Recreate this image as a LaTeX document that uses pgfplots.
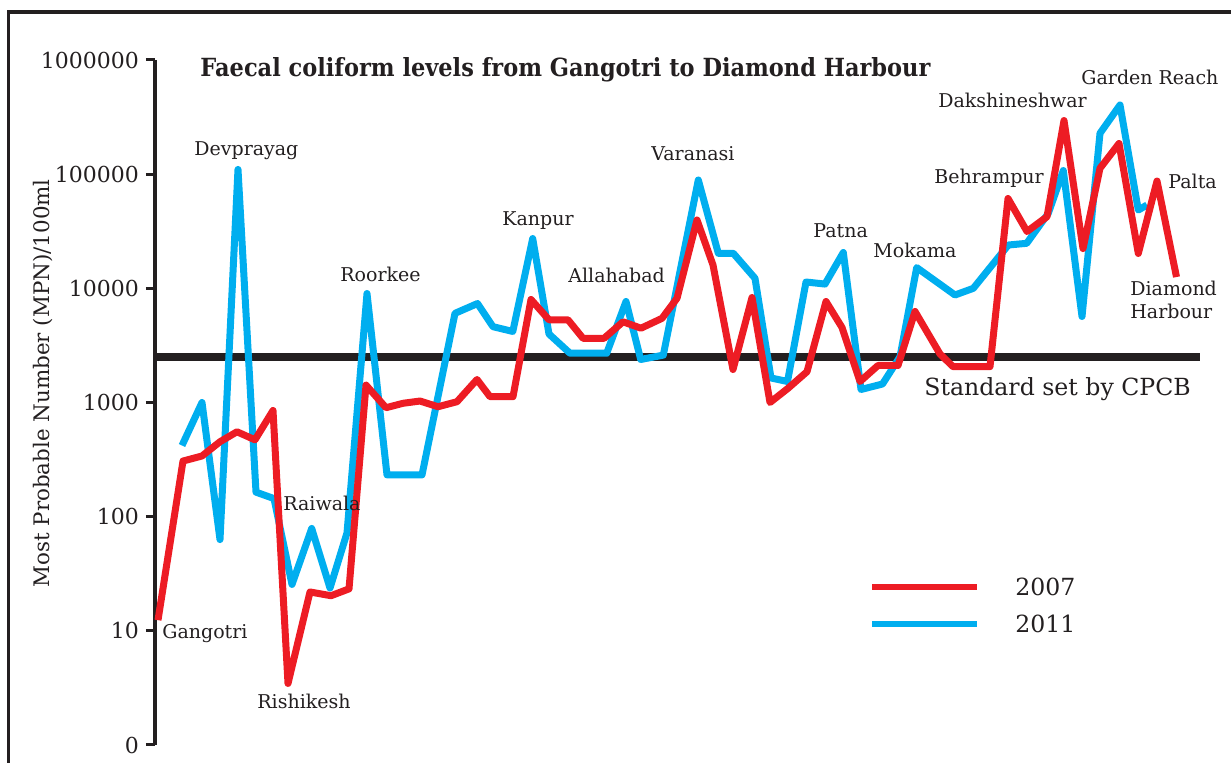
\documentclass[border=0pt]{standalone}
\usepackage{pgfplots}
\pgfplotsset{compat=1.18}
\usepackage{fontspec}
\setmainfont{DejaVu Serif}
\usepackage{graphicx}
\definecolor{cred}{HTML}{ED1C24}
\definecolor{cblue}{HTML}{00AEEF}
\definecolor{cblack}{HTML}{231F20}
\newcommand{\lab}{\fontsize{9.5}{11}\selectfont}
\newcommand{\bigfont}{\fontsize{11.8}{14}\selectfont}
\begin{document}
\color{cblack}
\begin{tikzpicture}[x=0.5pt,y=-0.5pt]
\useasboundingbox (0,0) rectangle (1231,763);
\draw[cblack, line width=1.6pt] (8.5,790) -- (8.5,12) -- (1250,12);
\begin{axis}[
  at={(77.5pt,-372.5pt)}, anchor=south west,
  scale only axis, width=538pt, height=342.5pt,
  xmin=155, xmax=1231, ymin=1, ymax=1000000, ymode=log,
  axis x line=none, axis y line=left,
  axis line style={-, cblack, line width=2pt},
  ytick={1,10,100,1000,10000,100000,1000000},
  yticklabels={0,10,100,1000,10000,100000,1000000},
  yminorticks=false,
  tick align=outside, major tick length=4.5pt,
  tick style={cblack, line width=1.5pt},
  yticklabel style={font=\fontsize{11}{13}\selectfont, text=cblack},
  ylabel={Most Probable Number (MPN)/100ml},
  ylabel style={at={(axis description cs:-0.104,0.528)}, anchor=center, font=\fontsize{10.7}{13}\selectfont},
  clip=false,
  reverse legend,
  legend style={at={(axis description cs:0.6636,0.243)}, anchor=north west, draw=none, fill=none,
    inner sep=0pt, font=\bigfont, nodes={inner sep=0pt, text height=8.5pt, text depth=0pt},
    row sep=9.7pt, column sep=17.5pt},
  legend image code/.code={\draw[#1, line width=3pt] (0pt,0pt) -- (52.5pt,0pt);},
  legend cell align=left,
]
\addplot[cblack, line width=4pt, forget plot] coordinates {(155,2500) (1200,2500)};
\addplot[cblue, line width=3.5pt, line join=round] coordinates {
(182,420) (202,1000) (220,63) (238,110000) (256,164) (274,144) (292,25.5) (311.7,78.8)
(330,23.7) (347,72) (367,9010) (387,232) (422,232) (455,6040) (477.5,7360) (493,4613)
(512.8,4190) (532.7,27300) (549,3980) (570,2700) (606.7,2700) (626,7670) (640.7,2380)
(663.3,2600) (698.3,88900) (718.3,20260) (733.3,20260) (755,12240) (771,1640) (787.5,1527)
(806,11360) (825,10900) (843.3,20600) (861,1300) (882.5,1452) (900,2518) (916.7,15200)
(955,8740) (973.3,10000) (1008.3,23950) (1026.7,24790) (1048.3,45400) (1063.3,107600)
(1082,5665) (1100,228000) (1120,403500) (1138.3,48500) (1147,53700)
};
\addlegendentry{2011}
\addplot[cred, line width=3.5pt, line join=round] coordinates {
(158,12.4) (183,307) (202,340) (220,453) (237,554) (255,471) (273,851) (288,3.46)
(310,21.9) (331,20.3) (349,23.3) (366,1420) (386,900) (403,984) (420,1030) (438,918)
(457,1016) (477,1590) (490,1124) (513,1124) (531,7980) (549,5300) (568,5300) (583,3650)
(604,3650) (623,5090) (641,4475) (662,5460) (677,8180) (697,39700) (713,16000) (733,1945)
(752,8310) (770,1000) (788,1331) (807,1861) (826,7670) (842,4540) (860,1527) (878,2109)
(898,2109) (915,6270) (940,2660) (953,2060) (990,2060) (1008,61200) (1027,31460)
(1047,42400) (1064,295000) (1083,22300) (1100,112600) (1119,185500) (1138.3,20200)
(1157,87100) (1176.5,12560)
};
\addlegendentry{2007}
\end{axis}
\node[anchor=base west, inner sep=0pt] at (200,77) {\resizebox{365pt}{\height}{\fontsize{12.5}{14}\selectfont\bfseries Faecal coliform levels from Gangotri to Diamond Harbour}};
\node[anchor=base west, inner sep=0pt, font=\lab] at (194,156) {Devprayag};
\node[anchor=base west, inner sep=0pt, font=\lab] at (340,282) {Roorkee};
\node[anchor=base west, inner sep=0pt, font=\lab] at (283,511) {Raiwala};
\node[anchor=base west, inner sep=0pt, font=\lab] at (162,639) {Gangotri};
\node[anchor=base west, inner sep=0pt, font=\lab] at (257,709) {Rishikesh};
\node[anchor=base west, inner sep=0pt, font=\lab] at (502,226) {Kanpur};
\node[anchor=base west, inner sep=0pt, font=\lab] at (568,283) {Allahabad};
\node[anchor=base west, inner sep=0pt, font=\lab] at (651,161) {Varanasi};
\node[anchor=base west, inner sep=0pt, font=\lab] at (813,238) {Patna};
\node[anchor=base west, inner sep=0pt, font=\lab] at (873,258) {Mokama};
\node[anchor=base west, inner sep=0pt, font=\lab] at (934,184) {Behrampur};
\node[anchor=base west, inner sep=0pt, font=\lab] at (938,108) {Dakshineshwar};
\node[anchor=base west, inner sep=0pt, font=\lab] at (1081,85) {Garden Reach};
\node[anchor=base west, inner sep=0pt, font=\lab] at (1168,189) {Palta};
\node[anchor=base west, inner sep=0pt, font=\lab] at (1130,296) {Diamond};
\node[anchor=base west, inner sep=0pt, font=\lab] at (1130,319) {Harbour};
\node[anchor=base west, inner sep=0pt, font=\bigfont] at (924,396) {Standard set by CPCB};
\end{tikzpicture}
\end{document}
